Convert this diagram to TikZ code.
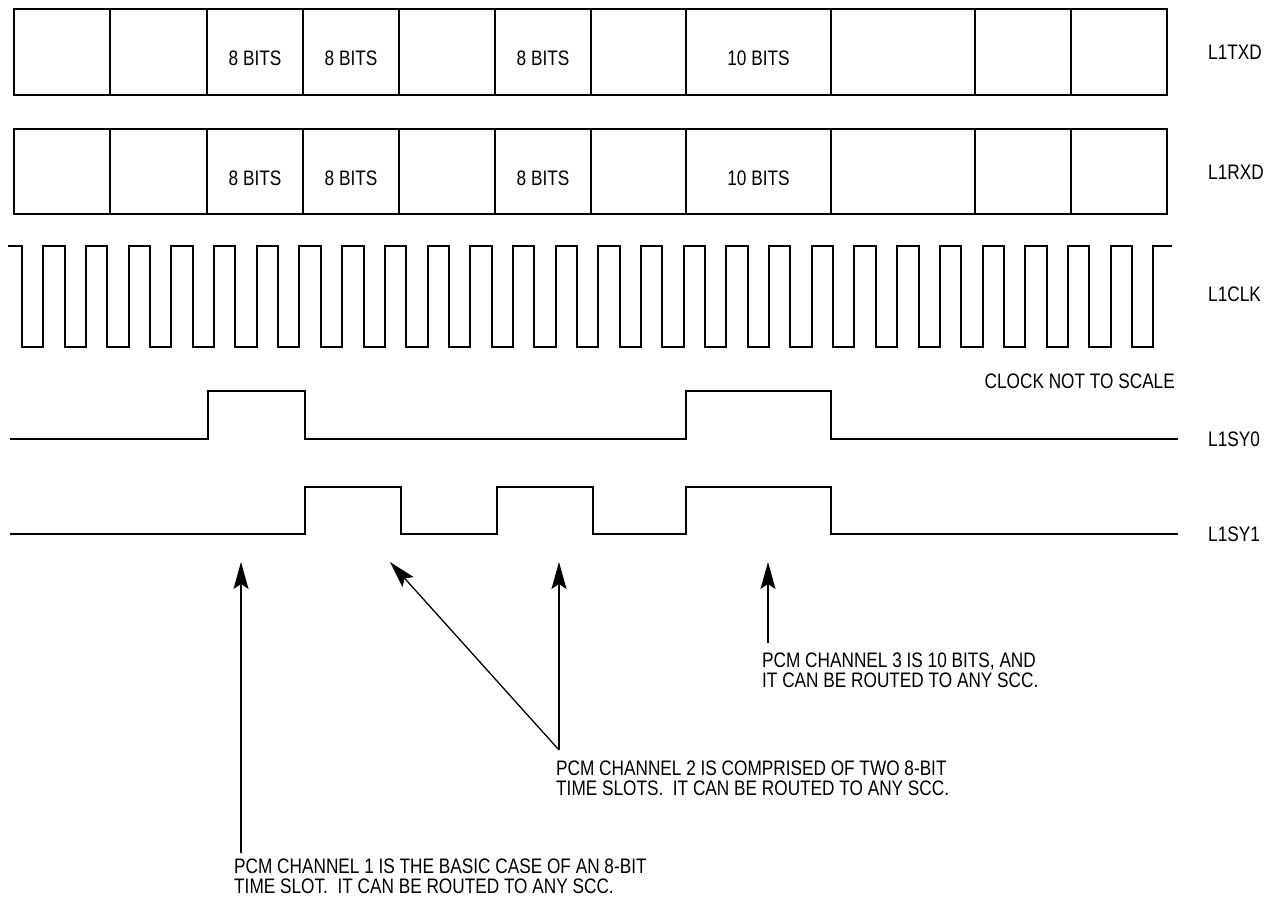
\documentclass[tikz,border=0pt]{standalone}
\usepackage{fontspec}
\setmainfont[FakeStretch=0.82]{Liberation Sans}
\usetikzlibrary{arrows.meta}
\begin{document}
\begin{tikzpicture}[x=1pt,y=-1pt,
  wave/.style={line width=2pt, line join=miter},
  txt/.style={font=\fontsize{21}{22}\selectfont, inner sep=0pt, anchor=base west},
  celltxt/.style={font=\fontsize{21}{22}\selectfont, inner sep=0pt, anchor=base},
  pointer/.style={line width=1.3pt, -{Stealth[length=27pt,width=15pt,inset=5pt]}}]
\useasboundingbox (0,0) rectangle (1268,903);
% data rows
\foreach \ya/\yb in {9/95,129/214}{
  \draw[wave] (14,\ya) rectangle (1167,\yb);
  \foreach \x in {110,207,303,399,495,591,686,831,975,1071}
    \draw[wave] (\x,\ya) -- (\x,\yb);
}
\node[celltxt] (t1) at (255,65) {8 BITS};
\node[celltxt] (t2) at (351,65) {8 BITS};
\node[celltxt] (t3) at (543,65) {8 BITS};
\node[celltxt] (t4) at (758.5,65) {10 BITS};
\node[celltxt] (r1) at (255,185) {8 BITS};
\node[celltxt] (r2) at (351,185) {8 BITS};
\node[celltxt] (r3) at (543,185) {8 BITS};
\node[celltxt] (r4) at (758.5,185) {10 BITS};
% clock
\draw[wave] (8,246) -- (22,246) -- (22,347)
  \foreach \j in {0,...,25}{
    -- ({43.35+\j*42.69},347) -- ({43.35+\j*42.69},246)
    -- ({22+(\j+1)*42.69},246) -- ({22+(\j+1)*42.69},347)
  }
  -- (1153.3,347) -- (1153.3,246) -- (1172,246);
% sync lines
\draw[wave] (10,439) -- (208,439) -- (208,391) -- (305,391) -- (305,439)
  -- (686,439) -- (686,391) -- (831,391) -- (831,439) -- (1178,439);
\draw[wave] (10,534) -- (305,534) -- (305,487) -- (401,487) -- (401,534)
  -- (497,534) -- (497,487) -- (593,487) -- (593,534)
  -- (686,534) -- (686,487) -- (831,487) -- (831,534) -- (1178,534);
% labels
\node[txt] (lt) at (1208,59) {L1TXD};
\node[txt] (lr) at (1208,179) {L1RXD};
\node[txt] (lc) at (1208,301) {L1CLK};
\node[font=\fontsize{21}{22}\selectfont, inner sep=0pt, anchor=base east] (ns) at (1175,388) {CLOCK NOT TO SCALE};
\node[txt] (l0) at (1208,446) {L1SY0};
\node[txt] (l1) at (1208,541) {L1SY1};
% pointers
\coordinate (a1s) at (241,853); \coordinate (a1e) at (241,562);
\coordinate (a2s) at (559,750); \coordinate (a2e) at (390,562);
\coordinate (a3e) at (559,562);
\coordinate (a4s) at (768,643); \coordinate (a4e) at (768,562);
\draw[pointer] (a1s) -- (a1e);
\draw[pointer] (a2s) -- (a2e);
\draw[pointer] (a2s) -- (a3e);
\draw[pointer] (a4s) -- (a4e);
% notes
\node[txt] (c3a) at (762,667) {PCM CHANNEL 3 IS 10 BITS, AND};
\node[txt] (c3b) at (762,687) {IT CAN BE ROUTED TO ANY SCC.};
\node[txt] (c2a) at (556,775) {PCM CHANNEL 2 IS COMPRISED OF TWO 8-BIT};
\node[txt] (c2b) at (556,795) {TIME SLOTS.\ \ IT CAN BE ROUTED TO ANY SCC.};
\node[txt] (c1a) at (234,873) {PCM CHANNEL 1 IS THE BASIC CASE OF AN 8-BIT};
\node[txt] (c1b) at (234,893) {TIME SLOT.\ \ IT CAN BE ROUTED TO ANY SCC.};
\end{tikzpicture}
\end{document}
